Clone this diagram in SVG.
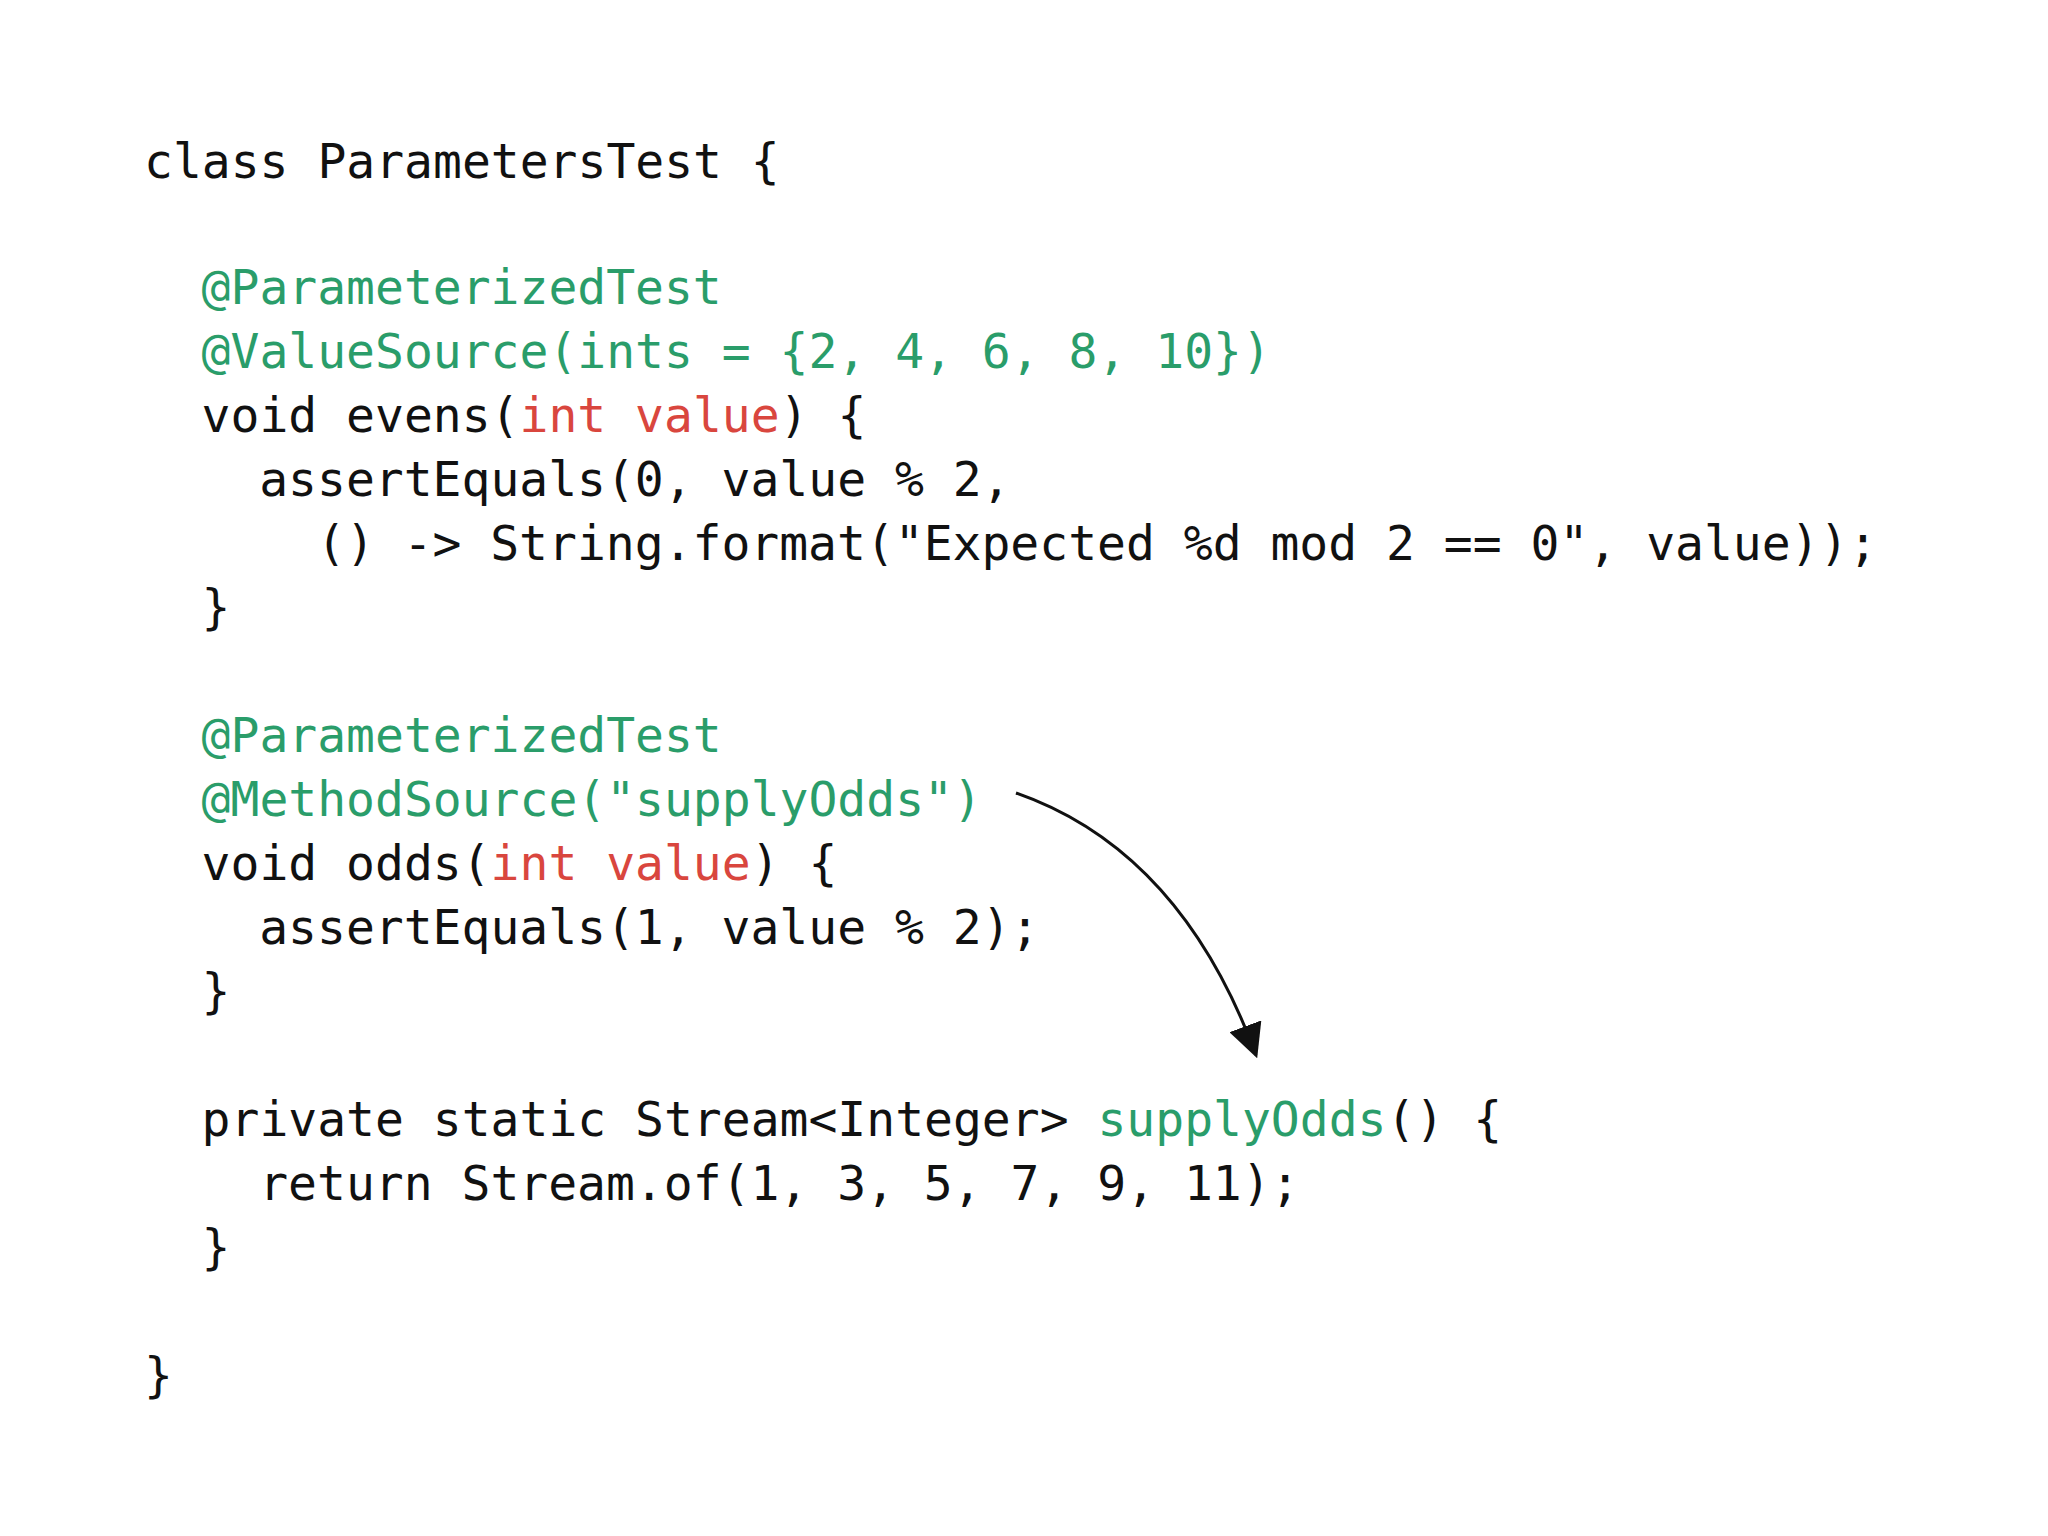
<svg xmlns="http://www.w3.org/2000/svg" width="2048" height="1536" viewBox="0 0 2048 1536">
<style>
text{font-family:"DejaVu Sans Mono","Liberation Mono",monospace;font-size:48px;fill:#111;white-space:pre}
.g{fill:#2a9d6a}.r{fill:#d9463e}
</style>
<defs><marker id="ah" viewBox="0 0 10 10" refX="8" refY="5" markerWidth="8" markerHeight="8" orient="auto" markerUnits="userSpaceOnUse"><path d="M0,0L10,5L0,10z" fill="#111"/></marker>
<marker id="a2" viewBox="0 0 10 10" refX="9" refY="5" markerWidth="34" markerHeight="34" orient="auto" markerUnits="userSpaceOnUse"><path d="M0,0L10,5L0,10z" fill="#111"/></marker></defs>
<rect width="2048" height="1536" fill="#fff"/>
<g id="code" xml:space="preserve">
<text x="144" y="178">class ParametersTest {</text>
<text x="201.6" y="304" class="g">@ParameterizedTest</text>
<text x="201.6" y="368" class="g">@ValueSource(ints = {2, 4, 6, 8, 10})</text>
<text x="201.6" y="432">void evens(<tspan class="r">int value</tspan>) {</text>
<text x="259.2" y="496">assertEquals(0, value % 2,</text>
<text x="316.8" y="560">() -&gt; String.format("Expected %d mod 2 == 0", value));</text>
<text x="201.6" y="624">}</text>
<text x="201.6" y="752" class="g">@ParameterizedTest</text>
<text x="201.6" y="816" class="g">@MethodSource("supplyOdds")</text>
<text x="201.6" y="880">void odds(<tspan class="r">int value</tspan>) {</text>
<text x="259.2" y="944">assertEquals(1, value % 2);</text>
<text x="201.6" y="1008">}</text>
<text x="201.6" y="1136">private static Stream&lt;Integer&gt; <tspan class="g">supplyOdds</tspan>() {</text>
<text x="259.2" y="1200">return Stream.of(1, 3, 5, 7, 9, 11);</text>
<text x="201.6" y="1264">}</text>
<text x="144" y="1392">}</text>
</g>
<g id="connectors">
<path d="M1016,793 Q1180,850 1256,1055" fill="none" stroke="#111" stroke-width="3" marker-end="url(#a2)"/>
</g>
</svg>
